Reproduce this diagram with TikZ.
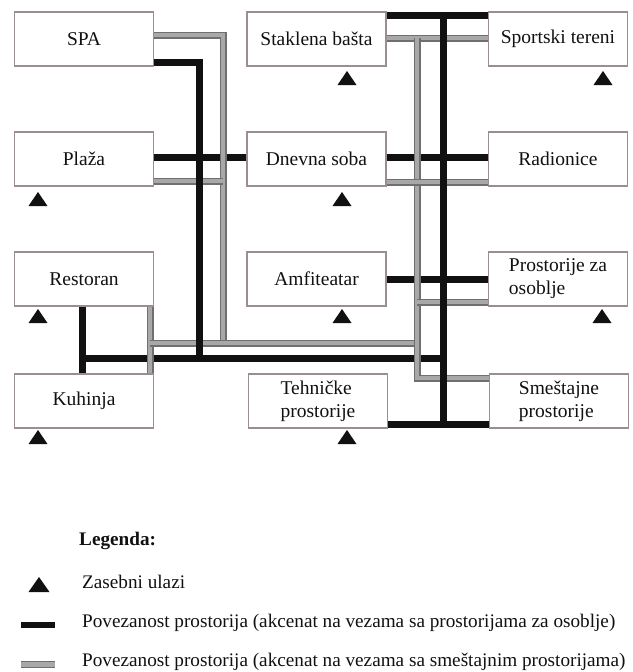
\documentclass[tikz,border=0pt]{standalone}
\usepackage{fontspec}
\setmainfont{Liberation Serif}
\definecolor{boxc}{HTML}{9A8E8E}
\definecolor{grayedge}{HTML}{6F6F6F}
\definecolor{grayfill}{HTML}{A8A8A8}
\definecolor{ink}{HTML}{111111}
\newcommand\entrance[1]{\fill[ink] (#1) ++(-9.5,7) -- ++(19,0) -- ++(-9.5,-14) -- cycle;}
\begin{document}
\begin{tikzpicture}[x=1pt,y=-1pt,
  room/.style={draw=boxc, line width=1.1pt, fill=white, minimum width=139pt,
    minimum height=54pt, inner sep=2pt, font=\fontsize{19.5}{23}\selectfont,
    text=ink, align=left},
  blk/.style={draw=ink, line width=7pt},
  gry/.style={draw=grayedge, line width=1.2pt, double=grayfill, double distance=4.6pt},
  legtext/.style={font=\fontsize{19.2}{23}\selectfont, anchor=base west, inner sep=0pt, text=ink}]
\useasboundingbox (0,0) rectangle (632,672);
\fill[white] (0,0) rectangle (632,672);

% rooms
\node[room] (spa)    at (84,39)    {SPA};
\node[room] (stak)   at (316.5,39) {Staklena bašta};
\node[room] (sport)  at (558,39)   {Sportski tereni};
\node[room] (plaza)  at (84,159)   {Plaža};
\node[room] (dnevna) at (316.5,159){Dnevna soba};
\node[room] (radio)  at (558,159)  {Radionice};
\node[room] (rest)   at (84,279)   {Restoran};
\node[room] (amfi)   at (316.5,279){Amfiteatar};
\node[room] (osob)   at (558,279)  {Prostorije za\\osoblje};
\node[room] (kuh)    at (84,401)   {Kuhinja};
\node[room] (teh)    at (318,401)  {Tehničke\\prostorije};
\node[room] (smes)   at (559,401)  {Smeštajne\\prostorije};

% junction coordinates
\coordinate (gA) at (223,35);
\coordinate (gB) at (223,343);
\coordinate (gC) at (150,343);
\coordinate (gD) at (417,343);
\coordinate (gT) at (417,38);
\coordinate (gE) at (417,378);
\coordinate (gF) at (417,302);
\coordinate (gP) at (223,181);
\coordinate (bA) at (199,62);
\coordinate (bB) at (199,358);
\coordinate (bC) at (82,358);
\coordinate (bD) at (443,358);
\coordinate (bT) at (443,15);
\coordinate (bU) at (443,424);

% gray connections
\draw[gry] (spa.east |- 0,35) -- (gA) -- (gB);
\draw[gry] (plaza.east |- 0,181) -- (gP);
\draw[gry] (rest.south -| 150,0) -- (kuh.north -| 150,0);
\draw[gry] (gC) -- (gD);
\draw[gry] (stak.east |- 0,38) -- (sport.west |- 0,38);
\draw[gry] (gT) -- (gE) -- (smes.west |- 0,378);
\draw[gry] (dnevna.east |- 0,182) -- (radio.west |- 0,182);
\draw[gry] (gF) -- (osob.west |- 0,302);

% black connections
\draw[blk] (stak.east |- 0,15) -- (sport.west |- 0,15);
\draw[blk] (bT) -- (bU);
\draw[blk] (teh.east |- 0,424) -- (smes.west |- 0,424);
\draw[blk] (dnevna.east |- 0,157) -- (radio.west |- 0,157);
\draw[blk] (amfi.east |- 0,279) -- (osob.west |- 0,279);
\draw[blk] (plaza.east |- 0,157) -- (dnevna.west |- 0,157);
\draw[blk] (rest.south -| bC) -- (kuh.north -| bC);
\draw[blk] (bC) -- (bD);
\draw[blk] (spa.east |- bA) -- (bA) -- (bB);

% gray passes over black at these crossings
\draw[gry] (223,148) -- (223,166);
\draw[gry] (417,148) -- (417,166);
\draw[gry] (417,270) -- (417,288);
\draw[gry] (417,349) -- (417,367);
\draw[gry] (150,349) -- (150,367);

% separate entrances
\entrance{347,78}
\entrance{603,78}
\entrance{38,199}
\entrance{342,199}
\entrance{38,316}
\entrance{342,316}
\entrance{602,316}
\entrance{38,437}
\entrance{347,437}

% legend
\node[legtext, font=\fontsize{19.2}{23}\selectfont\bfseries] (leg) at (79,545) {Legenda:};
\fill[ink] (39,585) ++(-10.5,7) -- ++(21,0) -- ++(-10.5,-15) -- cycle;
\node[legtext] (l1) at (82,588) {Zasebni ulazi};
\draw[ink, line width=6pt] (21,625) -- (55,625);
\node[legtext] (l2) at (82,627) {Povezanost prostorija (akcenat na vezama sa prostorijama za osoblje)};
\draw[gry] (21,664.5) -- (55,664.5);
\node[legtext] (l3) at (82,666.5) {Povezanost prostorija (akcenat na vezama sa smeštajnim prostorijama)};
\end{tikzpicture}
\end{document}
